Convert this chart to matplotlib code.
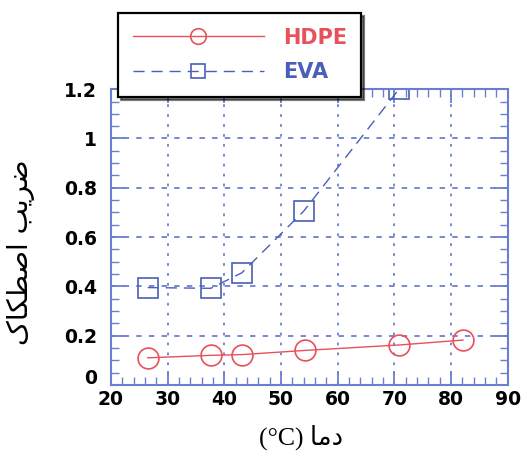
import numpy as np
import matplotlib.pyplot as plt
from matplotlib.ticker import MultipleLocator
from matplotlib.transforms import ScaledTranslation

# data
hdpe_temp = [26.5, 37.6, 43.1, 54.2, 70.8, 82.1]
hdpe_mu = [0.11, 0.12, 0.123, 0.14, 0.162, 0.182]
eva_temp = [26.5, 37.6, 43.1, 54.0, 70.8]
eva_mu = [0.395, 0.392, 0.455, 0.705, 1.2]

yticks = [0, 0.2, 0.4, 0.6, 0.8, 1.0, 1.2]
ytick_labels = ["0", "0.2", "0.4", "0.6", "0.8", "1", "1.2"]
xticks = [20, 30, 40, 50, 60, 70, 80, 90]

# Persian labels in presentation forms (visual order, matplotlib does no shaping)
ylabel = "\uFB8E\uFE8E\uFB91\uFEC4\uFEBB\uFE8D \uFE90\uFBFE\uFEAE\uFEBF"
xlabel = "(°C) \uFE8E\uFEE3\uFEA9"

red = "#e8505a"
blue = "#4a5fb8"
axcol = "#6a7fd0"

fig = plt.figure(figsize=(5.23, 4.55), dpi=100)
ax = fig.add_axes([0.212, 0.154, 0.759, 0.650])

ax.plot(hdpe_temp, hdpe_mu, "-o", color=red, lw=1.0, ms=15,
        mfc="none", mec=red, mew=1.2, label="HDPE")
ax.plot(eva_temp, eva_mu, "s", color=blue, lw=1.0, ms=14,
        mfc="none", mec=blue, mew=1.2, ls=(0, (8, 5)), label="EVA")

ax.set_xlim(20, 90)
ax.set_ylim(0, 1.2)
ax.set_xticks(xticks)
ax.set_yticks(yticks)
ax.set_yticklabels(ytick_labels)
ax.xaxis.set_minor_locator(MultipleLocator(2))
ax.yaxis.set_minor_locator(MultipleLocator(0.05))

for s in ax.spines.values():
    s.set_color(axcol)
    s.set_linewidth(1.5)
ax.tick_params(which="both", direction="in", top=True, right=True, color=axcol)
ax.tick_params(which="major", length=10, width=1.3, labelsize=13.5)
ax.tick_params(axis="x", which="major", pad=4)
ax.tick_params(axis="y", which="major", pad=10)
ax.tick_params(which="minor", length=6, width=1.0)
for lab in ax.get_xticklabels() + ax.get_yticklabels():
    lab.set_fontweight("bold")
    lab.set_family("DejaVu Sans")

# the "0" on the y axis sits a bit higher in the original
zero = ax.get_yticklabels()[0]
zero.set_transform(zero.get_transform() + ScaledTranslation(0, 6 / 72, fig.dpi_scale_trans))

ax.grid(True, axis="x", which="major", color=axcol, ls=(0, (1.5, 4)), lw=1.3)
ax.grid(True, axis="y", which="major", color=axcol, ls=(0, (3, 4)), lw=1.3)

ax.set_xlabel(xlabel, family=["Liberation Serif", "DejaVu Sans"], fontsize=18.5)
ax.xaxis.set_label_coords(0.48, -0.135)
ax.set_ylabel(ylabel, family=["DejaVu Sans"], fontsize=20)
ax.yaxis.set_label_coords(-0.19, 0.45)

leg = fig.legend(loc="upper left", bbox_to_anchor=(0.226, 0.971), borderaxespad=0,
                 handlelength=6.3, fontsize=15, frameon=True, fancybox=False,
                 shadow={"color": "black"}, borderpad=0.7, labelspacing=0.7,
                 handletextpad=0.9, markerscale=0.75)
leg.get_frame().set_edgecolor("black")
leg.get_frame().set_linewidth(1.6)
for t, c in zip(leg.get_texts(), [red, blue]):
    t.set_color(c)
    t.set_fontweight("bold")
    t.set_family("DejaVu Sans")

fig.savefig("out.png", dpi=100)
